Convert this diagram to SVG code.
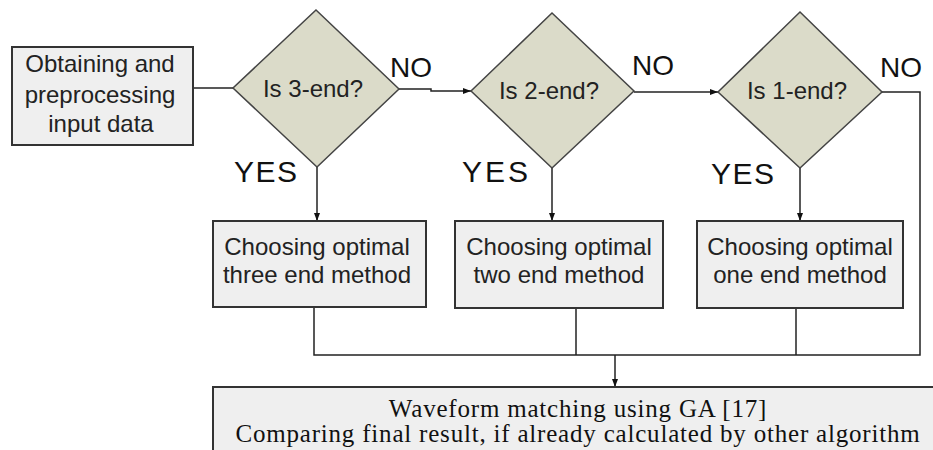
<svg xmlns="http://www.w3.org/2000/svg" width="933" height="450" viewBox="0 0 933 450">
  <defs>
    <marker id="arrow" viewBox="0 0 8 8" refX="8" refY="4" markerWidth="8" markerHeight="8" markerUnits="userSpaceOnUse" orient="auto">
      <path d="M0,1 L8,4 L0,7 Z" fill="#111"/>
    </marker>
    <style>
      .box { fill: #efefef; stroke: #333; stroke-width: 2; }
      .dia { fill: #dbdbc9; stroke: #444; stroke-width: 1.5; }
      .lbl { font-family: "Liberation Sans", Arial, sans-serif; font-size: 24px; fill: #222; text-anchor: middle; }
      .yn { font-family: "Liberation Sans", Arial, sans-serif; fill: #111; }
      .ser { font-family: "Liberation Serif", "Times New Roman", serif; font-size: 25px; letter-spacing: 0.8px; fill: #111; text-anchor: middle; }
      .wire { fill: none; stroke: #222; stroke-width: 1.5; }
    </style>
  </defs>
  <rect width="933" height="450" fill="#fff"/>

  <!-- connectors -->
  <g id="connectors">
    <path class="wire" d="M193,88 H233"/>
    <path class="wire" d="M399,89 H431 V91 H471" marker-end="url(#arrow)"/>
    <path class="wire" d="M634,92 H718" marker-end="url(#arrow)"/>
    <path class="wire" d="M882,92 H920 V355 H314 V307"/>
    <path class="wire" d="M576,308 V355"/>
    <path class="wire" d="M796,308 V355"/>
    <path class="wire" d="M615,355 V387" marker-end="url(#arrow)"/>
    <path class="wire" d="M317,167 V221" marker-end="url(#arrow)"/>
    <path class="wire" d="M552,168 V221" marker-end="url(#arrow)"/>
    <path class="wire" d="M800,168 V221" marker-end="url(#arrow)"/>
  </g>

  <!-- input stage -->
  <g id="input">
    <rect class="box" x="12" y="47" width="181" height="98"/>
    <text class="lbl" x="100" y="72">Obtaining and</text>
    <text class="lbl" x="100" y="103">preprocessing</text>
    <text class="lbl" x="101" y="132">input data</text>
  </g>

  <!-- decisions -->
  <g id="is3">
    <polygon class="dia" points="316,10 399,89 317,167 233,88"/>
    <text class="lbl" x="313" y="97">Is 3-end?</text>
  </g>
  <g id="is2">
    <polygon class="dia" points="552,13 634,91 552,168 471,91"/>
    <text class="lbl" x="549" y="99">Is 2-end?</text>
  </g>
  <g id="is1">
    <polygon class="dia" points="800,12 882,92 800,168 718,92"/>
    <text class="lbl" x="797" y="99">Is 1-end?</text>
  </g>

  <!-- branch labels -->
  <g id="labels">
    <text class="yn" x="390" y="77" font-size="28">NO</text>
    <text class="yn" x="632" y="75" font-size="28">NO</text>
    <text class="yn" x="880" y="77" font-size="28">NO</text>
    <text class="yn" x="234" y="182" font-size="30" letter-spacing="1.5">YES</text>
    <text class="yn" x="462" y="182" font-size="30" letter-spacing="3">YES</text>
    <text class="yn" x="711" y="184" font-size="30" letter-spacing="1.5">YES</text>
  </g>

  <!-- method selection -->
  <g id="three">
    <rect class="box" x="213" y="221" width="213" height="86"/>
    <text class="lbl" x="317" y="255">Choosing optimal</text>
    <text class="lbl" x="317" y="283">three end method</text>
  </g>
  <g id="two">
    <rect class="box" x="455" y="221" width="208" height="87"/>
    <text class="lbl" x="559" y="255">Choosing optimal</text>
    <text class="lbl" x="559" y="283">two end method</text>
  </g>
  <g id="one">
    <rect class="box" x="697" y="221" width="206" height="87"/>
    <text class="lbl" x="800" y="255">Choosing optimal</text>
    <text class="lbl" x="800" y="283">one end method</text>
  </g>

  <!-- final stage -->
  <g id="final">
    <rect class="box" x="213" y="387" width="740" height="80"/>
    <text class="ser" x="578" y="417">Waveform matching using GA [17]</text>
    <text class="ser" x="578" y="442">Comparing final result, if already calculated by other algorithm</text>
  </g>
</svg>
